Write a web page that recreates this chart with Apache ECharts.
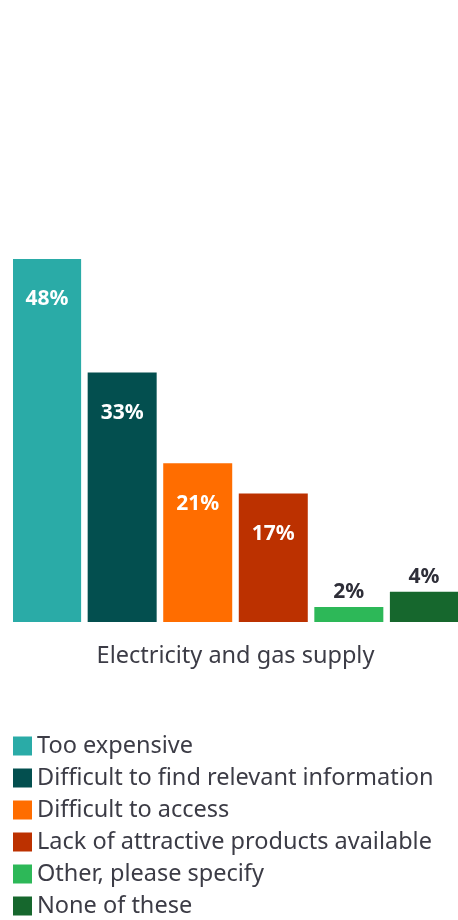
<!DOCTYPE html>
<html>
<head>
<meta charset="utf-8">
<script src="https://cdn.jsdelivr.net/npm/echarts@6/dist/echarts.min.js"></script>
<style>
  html, body { margin: 0; padding: 0; background: #fff; }
  #chartDom { width: 458px; height: 920px; }
</style>
</head>
<body>
<div id="chartDom"></div>
<script>
// 数据
const categories = ['Electricity and gas supply'];
const seriesNames = [
  'Too expensive',
  'Difficult to find relevant information',
  'Difficult to access',
  'Lack of attractive products available',
  'Other, please specify',
  'None of these'
];
const seriesValues = [48, 33, 21, 17, 2, 4];
const seriesColors = ['#2aaba7', '#034f4f', '#ff6d00', '#bc3100', '#2db858', '#16672d'];

const chart = echarts.init(document.getElementById('chartDom'));

const series = seriesNames.map((name, i) => {
  const small = seriesValues[i] < 10;
  return {
    name: name,
    type: 'bar',
    barWidth: 69,
    barGap: '9.5%',
    itemStyle: { color: seriesColors[i] },
    label: {
      show: true,
      position: small ? 'top' : 'insideTop',
      distance: small ? 4 : 30,
      formatter: '{c}%',
      color: small ? '#2e2e38' : '#ffffff',
      fontFamily: 'Noto Sans',
      fontWeight: 'bold',
      fontSize: 21
    },
    data: [seriesValues[i]]
  };
});

chart.setOption({
  animation: false,
  grid: { left: 13, width: 450, top: 259, bottom: 298 },
  legend: {
    orient: 'vertical',
    left: 13,
    top: 734,
    height: 186,
    padding: 0,
    itemWidth: 19,
    itemHeight: 19,
    itemGap: 8,
    icon: 'rect',
    textStyle: { fontFamily: 'Noto Sans', fontSize: 23.5, color: '#3c3c46' },
    data: seriesNames
  },
  xAxis: {
    type: 'category',
    data: categories,
    axisLine: { show: false },
    axisTick: { show: false },
    axisLabel: { fontFamily: 'Noto Sans', fontSize: 23.5, color: '#3c3c46', margin: 22 }
  },
  yAxis: {
    type: 'value',
    min: 0,
    max: 48,
    show: false
  },
  series: series
});
</script>
</body>
</html>
